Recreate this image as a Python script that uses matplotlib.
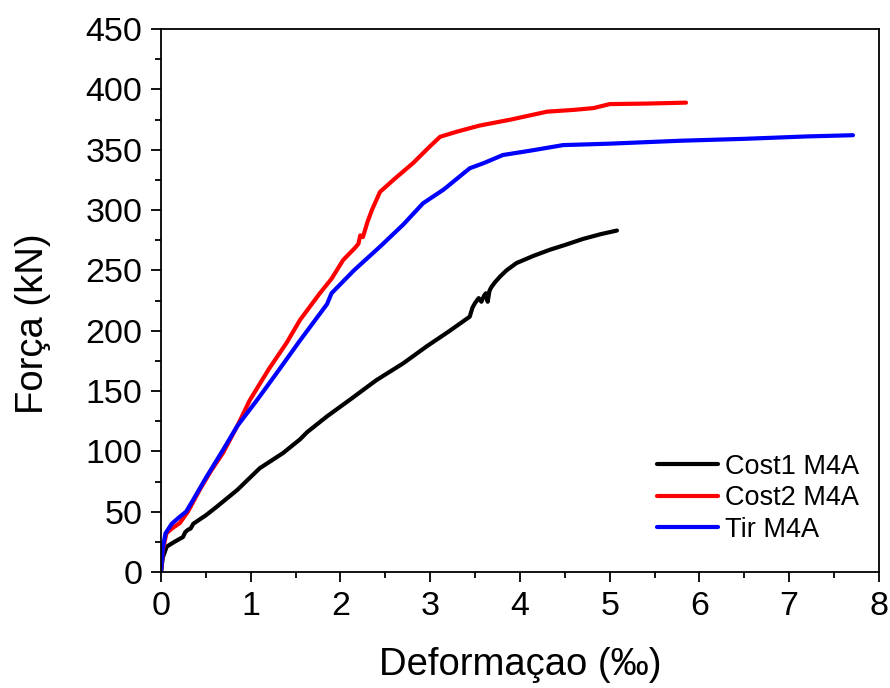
import matplotlib
matplotlib.use("Agg")
import matplotlib.pyplot as plt
from matplotlib.ticker import MultipleLocator

plt.rcParams['font.family'] = ['Liberation Sans', 'DejaVu Sans']

# Strain (‰) vs. force (kN) for the three M4A gauges
cost1_x = [0.00, 0.02, 0.063, 0.15, 0.245, 0.27, 0.30, 0.33, 0.36, 0.50, 0.62, 0.85, 1.10,
           1.36, 1.55, 1.63, 1.85, 2.10, 2.40, 2.70, 2.96, 3.20, 3.44, 3.47, 3.50,
           3.54, 3.57, 3.60, 3.62, 3.64, 3.66, 3.68, 3.72, 3.78, 3.85, 3.96, 4.15,
           4.33, 4.50, 4.70, 4.90, 5.08]
cost1_y = [0, 12, 21, 25, 29, 33, 35, 36, 40, 47, 54, 68, 86,
           98.6, 110, 116, 129, 142.5, 159, 173, 187, 199, 211.6, 219, 223,
           227, 224, 229, 231, 224, 233, 236, 240, 245, 250, 256, 262,
           267, 271, 276, 280, 283]

cost2_x = [0.00, 0.02, 0.06, 0.12, 0.21, 0.30, 0.43, 0.55, 0.69, 0.85, 0.99, 1.20,
           1.40, 1.55, 1.77, 1.90, 2.03, 2.16, 2.20, 2.22, 2.25, 2.30, 2.35,
           2.44, 2.59, 2.81, 3.00, 3.11, 3.30, 3.55, 3.90, 4.30, 4.60, 4.82,
           5.00, 5.40, 5.85]
cost2_y = [0, 18, 32, 36, 40.6, 50, 68, 83, 98.6, 121, 142.5, 168,
           190, 209, 231, 243, 258.6, 268.5, 272, 279, 277.6, 290, 300,
           315, 325, 339, 353, 360.7, 365, 370, 375, 381.5, 383, 384.5,
           387.8, 388.2, 389]

tir_x = [0.00, 0.02, 0.05, 0.12, 0.21, 0.28, 0.36, 0.50, 0.69, 0.85, 1.07, 1.30,
         1.55, 1.85, 1.90, 2.15, 2.44, 2.70, 2.92, 3.15, 3.44, 3.60, 3.81,
         4.10, 4.48, 5.00, 5.78, 6.50, 7.20, 7.71]
tir_y = [0, 20, 32, 40, 45.8, 50, 60, 78, 101, 121, 142.5, 166,
         192, 222, 231, 250, 269.6, 288, 305.6, 317, 334.6, 339, 345.6,
         349, 353.8, 355, 357.4, 359, 361, 362]

series_names = ["Cost1 M4A", "Cost2 M4A", "Tir M4A"]
series_colors = ["#000000", "#ff0000", "#0000ff"]

x_ticks = [0, 1, 2, 3, 4, 5, 6, 7, 8]
y_ticks = [0, 50, 100, 150, 200, 250, 300, 350, 400, 450]

fig = plt.figure(figsize=(8.9, 6.88), dpi=100)
ax = fig.add_axes([0.1809, 0.1686, 0.8067, 0.7892])

for xs, ys, name, color in zip([cost1_x, cost2_x, tir_x],
                               [cost1_y, cost2_y, tir_y],
                               series_names, series_colors):
    ax.plot(xs, ys, color=color, lw=3.0, label=name,
            solid_joinstyle='round', solid_capstyle='round')

ax.set_xlim(0, 8)
ax.set_ylim(0, 450)
ax.set_xticks(x_ticks)
ax.set_yticks(y_ticks)
ax.xaxis.set_minor_locator(MultipleLocator(0.5))
ax.yaxis.set_minor_locator(MultipleLocator(25))

ax.tick_params(which='major', direction='out', length=7.5, width=1.3,
               labelsize=24.5, pad=6, top=False, right=False)
ax.tick_params(which='minor', direction='out', length=4.5, width=1.3,
               top=False, right=False)
for sp in ax.spines.values():
    sp.set_linewidth(1.3)

ax.set_xlabel("Deformaçao (‰)", fontsize=27.5)
ax.set_ylabel("Força (kN)", fontsize=27.5)
ax.xaxis.set_label_coords(0.5, -0.171)
ax.yaxis.set_label_coords(-0.178, 0.457)
ax.xaxis.label.set_verticalalignment('center')
ax.yaxis.label.set_verticalalignment('center')

leg = ax.legend(loc='center left', frameon=False, fontsize=19.5,
                handlelength=2.25, handletextpad=0.27, labelspacing=0.2,
                borderpad=0, borderaxespad=0,
                bbox_to_anchor=(0.691, 0.136))

fig.savefig("out.png", dpi=100)
